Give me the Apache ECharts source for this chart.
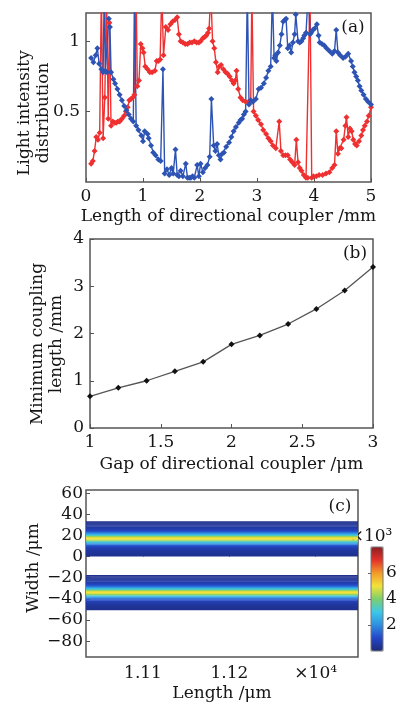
<!DOCTYPE html>
<html><head><meta charset="utf-8">
<script src="https://cdn.jsdelivr.net/npm/echarts@6/dist/echarts.min.js"></script>
<style>html,body{margin:0;padding:0;background:#fff}#c{width:403px;height:706px}</style>
</head><body><div id="c"></div>
<script>
// ---------- Panel (a): light intensity vs coupler length ----------
const blueX = [0.09,0.13,0.17,0.20,0.23,0.27,0.30,0.32,0.34,0.37,0.40,0.42,0.44,0.48,0.51,0.55,0.59,0.63,0.67,0.71,0.75,0.79,0.83,0.85,0.88,0.92,0.97,1.00,1.03,1.08,1.10,1.14,1.18,1.22,1.27,1.31,1.35,1.38,1.42,1.46,1.50,1.53,1.57,1.60,1.63,1.66,1.70,1.75,1.78,1.81,1.84,1.87,1.90,1.95,1.98,2.01,2.05,2.09,2.13,2.17,2.20,2.24,2.27,2.30,2.33,2.36,2.39,2.42,2.46,2.51,2.55,2.59,2.63,2.68,2.71,2.74,2.77,2.80,2.83,2.86,2.89,2.93,2.98,3.03,3.07,3.12,3.16,3.20,3.24,3.27,3.30,3.32,3.34,3.37,3.40,3.43,3.46,3.49,3.51,3.54,3.57,3.60,3.63,3.66,3.68,3.72,3.75,3.78,3.81,3.83,3.86,3.90,3.93,3.95,3.98,4.01,4.05,4.08,4.10,4.14,4.18,4.22,4.27,4.32,4.36,4.39,4.42,4.46,4.51,4.55,4.60,4.65,4.68,4.71,4.74,4.77,4.80,4.83,4.87,4.91,4.95,5.00];
const blueY = [0.88,0.85,0.90,0.95,0.84,0.80,0.78,1.35,0.79,0.78,1.16,1.10,0.78,0.73,0.70,0.66,0.62,0.58,0.54,0.51,0.48,0.45,0.43,1.35,0.40,0.37,0.33,0.29,0.36,0.34,0.31,0.26,0.21,0.19,0.16,0.15,0.80,0.06,0.09,0.05,0.10,0.06,0.23,0.05,0.04,0.08,0.04,0.13,0.03,0.03,0.03,0.04,0.03,0.12,0.04,0.13,0.07,0.10,0.12,0.18,0.59,0.26,0.22,0.27,0.19,0.16,0.20,0.21,0.25,0.28,0.32,0.36,0.39,0.42,0.44,0.45,0.48,0.50,1.35,0.55,0.58,0.57,0.59,0.66,0.67,0.70,0.74,0.79,0.82,1.35,0.88,0.90,0.86,0.92,0.97,1.05,1.14,1.15,1.16,0.95,0.97,0.92,0.99,1.05,1.19,1.00,0.99,1.00,1.02,1.04,1.06,1.35,1.05,1.06,1.08,1.09,1.12,1.04,0.99,0.98,0.97,0.95,0.93,0.91,0.93,1.08,0.92,0.90,0.88,0.89,0.91,0.86,0.82,0.78,0.75,0.72,0.68,0.65,0.62,0.59,0.57,0.55];
const redX = [0.09,0.12,0.15,0.18,0.21,0.24,0.27,0.30,0.33,0.36,0.39,0.41,0.44,0.47,0.50,0.53,0.56,0.59,0.63,0.67,0.70,0.73,0.76,0.79,0.82,0.85,0.88,0.90,0.93,0.96,0.99,1.01,1.04,1.08,1.12,1.16,1.21,1.24,1.27,1.30,1.33,1.36,1.40,1.44,1.48,1.52,1.56,1.60,1.63,1.66,1.70,1.74,1.78,1.82,1.86,1.90,1.94,1.98,2.01,2.05,2.08,2.11,2.14,2.16,2.19,2.22,2.25,2.28,2.31,2.34,2.37,2.41,2.45,2.48,2.52,2.56,2.59,2.62,2.64,2.67,2.71,2.75,2.80,2.85,2.89,2.91,2.94,2.98,3.02,3.07,3.11,3.16,3.20,3.24,3.28,3.33,3.39,3.42,3.46,3.50,3.54,3.58,3.62,3.66,3.69,3.72,3.75,3.78,3.82,3.86,3.89,3.93,3.96,3.99,4.04,4.09,4.15,4.21,4.27,4.32,4.36,4.39,4.42,4.45,4.48,4.52,4.55,4.57,4.60,4.63,4.66,4.69,4.72,4.75,4.79,4.83,4.86,4.89,4.93,4.96,5.00];
const redY = [0.13,0.15,0.22,0.32,0.30,0.35,1.35,0.31,0.60,1.35,0.45,1.13,0.40,0.43,0.42,0.42,0.43,0.43,0.45,0.47,0.50,0.53,0.58,0.59,0.60,0.62,1.35,0.68,0.72,0.98,0.95,0.92,0.82,0.80,0.78,0.78,0.79,0.86,0.86,0.87,1.35,0.90,1.10,1.08,1.12,1.14,1.15,1.17,1.05,1.00,0.99,0.98,0.98,0.99,0.99,1.00,0.99,0.99,1.00,1.02,1.03,1.04,1.06,1.09,1.35,1.00,0.95,0.85,0.78,0.82,0.83,0.80,0.78,0.77,0.75,0.72,0.70,0.72,0.79,0.66,0.60,0.58,0.57,0.57,0.57,1.35,0.50,0.47,0.44,0.41,0.37,0.34,0.31,0.29,0.26,0.24,0.43,0.22,0.19,0.19,0.19,0.16,0.14,0.12,0.30,0.14,0.10,0.08,0.05,0.03,0.03,1.35,0.03,0.04,0.04,0.05,0.05,0.06,0.07,0.10,0.12,0.36,0.20,0.24,0.24,0.30,0.40,0.46,0.32,0.38,0.36,0.30,0.27,0.26,0.29,0.33,0.37,0.40,0.43,0.47,0.53];

// ---------- Panel (b): minimum coupling length vs gap ----------
const gapX = [1.0,1.2,1.4,1.6,1.8,2.0,2.2,2.4,2.6,2.8,3.0];
const couplingLen = [0.67,0.85,1.00,1.20,1.40,1.77,1.96,2.20,2.52,2.91,3.41];

// ---------- Panel (c): field distribution ----------
const simLength = [11034, 11349];            // length span of simulation window (µm)
const upperWidth = [33,32,31,30,29,28,27,26,25,24,23,22,21,20,19,18,17,16,15,14,13,12,11,10,9,8,7,6,5,4,3,2,1];
const upperIntensity = [0.25,0.3,0.35,0.4,0.45,0.5,0.6,0.7,0.85,1.1,1.5,2.0,2.6,3.3,4.2,4.8,5.0,4.8,4.2,3.3,2.6,2.0,1.5,1.1,0.85,0.7,0.6,0.5,0.45,0.4,0.35,0.3,0.25];
const lowerWidth = [-18,-19,-20,-21,-22,-23,-24,-25,-26,-27,-28,-29,-30,-31,-32,-33,-34,-35,-36,-37,-38,-39,-40,-41,-42,-43,-44,-45,-46,-47,-48,-49,-50];
const lowerIntensity = [0.25,0.3,0.35,0.4,0.45,0.5,0.6,0.7,0.85,1.1,1.5,2.0,2.6,3.3,4.2,4.8,5.0,4.8,4.2,3.3,2.6,2.0,1.5,1.1,0.85,0.7,0.6,0.5,0.45,0.4,0.35,0.3,0.25];
const cYTicks = [-80,-60,-40,-20,0,20,40,60];
const cXTicks = [11100,11200,11300];
const cXTickLabels = ['1.11','1.12','×10⁴'];

const jet = ['#1e2a7a','#2446c8','#2f8fe0','#3cc8e8','#7ccf6c','#f2e23a','#f39a2a','#e3322a','#8a1f22'];
const FONT = 'DejaVu Serif';
const FS = 17;
const TXT = '#151515';
const FRAME = '#555';

const pair = (xs, ys) => xs.map((x, i) => [x, ys[i]]);
const heatRows = [];
upperWidth.forEach((w, i) => heatRows.push([simLength[0], simLength[1], w, upperIntensity[i]]));
lowerWidth.forEach((w, i) => heatRows.push([simLength[0], simLength[1], w, lowerIntensity[i]]));

const lbl = {fontFamily: FONT, fontSize: FS, color: TXT};
const nameStyle = {fontFamily: FONT, fontSize: FS, color: TXT};
const gFont = FS + 'px "' + FONT + '"';
function gridBox(o) { return Object.assign({show: true, borderColor: FRAME, borderWidth: 1.5, backgroundColor: 'transparent', containLabel: false}, o); }
function baseAxis(extra) {
  return Object.assign({
    axisLine: {show: false},
    axisTick: {show: true, inside: true, length: 4, lineStyle: {color: FRAME, width: 1}},
    splitLine: {show: false},
    axisLabel: Object.assign({margin: 6}, lbl),
    nameTextStyle: nameStyle
  }, extra);
}

const chart = echarts.init(document.getElementById('c'), null, {renderer: 'canvas'});
chart.setOption({
  animation: false,
  backgroundColor: '#fff',
  grid: [
    gridBox({left: 86, top: 13, width: 285, height: 169}),
    gridBox({left: 90, top: 239, width: 283, height: 189}),
    gridBox({left: 86, top: 490, width: 272, height: 167}),
    {left: 371, top: 547, width: 12, height: 104, show: false}
  ],
  xAxis: [
    baseAxis({gridIndex: 0, type: 'value', min: 0, max: 5, interval: 1,
      name: 'Length of directional coupler /mm', nameLocation: 'middle', nameGap: 26}),
    baseAxis({gridIndex: 1, type: 'value', min: 1, max: 3, interval: 0.5,
      name: 'Gap of directional coupler /μm', nameLocation: 'middle', nameGap: 28}),
    baseAxis({gridIndex: 2, type: 'value', min: simLength[0], max: simLength[1],
      axisTick: {show: true, inside: true, length: 4, customValues: cXTicks, lineStyle: {color: FRAME}},
      axisLabel: Object.assign({margin: 8, customValues: cXTicks,
        formatter: v => cXTickLabels[cXTicks.indexOf(v)]}, lbl),
      name: 'Length /μm', nameLocation: 'middle', nameGap: 28}),
    {gridIndex: 3, type: 'value', show: false, min: 0, max: 1}
  ],
  yAxis: [
    baseAxis({gridIndex: 0, type: 'value', min: 0, max: 1.2, interval: 0.5,
      axisLabel: Object.assign({margin: 6, showMinLabel: false, showMaxLabel: false}, lbl)}),
    baseAxis({gridIndex: 1, type: 'value', min: 0, max: 4, interval: 1,
      axisLabel: Object.assign({margin: 6}, lbl)}),
    baseAxis({gridIndex: 2, type: 'value', min: -95, max: 63,
      axisTick: {show: true, inside: true, length: 4, customValues: cYTicks, lineStyle: {color: FRAME}},
      axisLabel: Object.assign({margin: 3, customValues: cYTicks,
        formatter: v => (v < 0 ? '−' + Math.abs(v) : String(v))}, lbl)}),
    {gridIndex: 3, type: 'value', position: 'right', min: 0, max: 8, interval: 2,
      axisLine: {show: false}, splitLine: {show: false},
      axisTick: {show: true, inside: true, length: 3, lineStyle: {color: '#666'}},
      axisLabel: Object.assign({margin: 3, showMinLabel: false, showMaxLabel: false}, lbl),
      name: '×10³', nameLocation: 'end', nameGap: 2,
      nameTextStyle: {fontFamily: FONT, fontSize: FS, color: TXT, align: 'center', padding: [0, 0, 0, 0]}}
  ],
  visualMap: {
    type: 'continuous', seriesIndex: 3, dimension: 3, min: 0, max: 8,
    left: 371, top: 547, itemWidth: 12, itemHeight: 104, padding: 0,
    calculable: false, hoverLink: false, showLabel: false, text: null,
    borderWidth: 0,
    inRange: {color: jet}
  },
  series: [
    {type: 'line', xAxisIndex: 0, yAxisIndex: 0, data: pair(redX, redY), clip: true,
      symbol: 'diamond', symbolSize: 6, lineStyle: {color: '#ef3030', width: 1.4},
      itemStyle: {color: '#ef3030'}},
    {type: 'line', xAxisIndex: 0, yAxisIndex: 0, data: pair(blueX, blueY), clip: true,
      symbol: 'diamond', symbolSize: 6, lineStyle: {color: '#2d54b4', width: 1.4},
      itemStyle: {color: '#2d54b4'}},
    {type: 'line', xAxisIndex: 1, yAxisIndex: 1, data: pair(gapX, couplingLen),
      symbol: 'diamond', symbolSize: 6, lineStyle: {color: '#555', width: 1.3},
      itemStyle: {color: '#111'}},
    {type: 'custom', xAxisIndex: 2, yAxisIndex: 2, data: heatRows, clip: true,
      encode: {x: [0, 1], y: 2},
      renderItem: (params, api) => {
        const p0 = api.coord([api.value(0), api.value(2) + 0.5]);
        const p1 = api.coord([api.value(1), api.value(2) - 0.5]);
        return {type: 'rect',
          shape: {x: p0[0], y: p0[1], width: p1[0] - p0[0], height: p1[1] - p0[1] + 0.4},
          style: {fill: api.visual('color')}};
      }}
  ],
  graphic: [
    {type: 'text', x: 34, y: 113, rotation: Math.PI / 2,
      style: {text: 'Light intensity\ndistribution', font: gFont, fill: TXT,
        textAlign: 'center', textVerticalAlign: 'middle', lineHeight: 19}},
    {type: 'text', x: 47, y: 344, rotation: Math.PI / 2,
      style: {text: 'Minimum coupling\nlength /mm', font: gFont, fill: TXT,
        textAlign: 'center', textVerticalAlign: 'middle', lineHeight: 19}},
    {type: 'text', x: 34, y: 568, rotation: Math.PI / 2,
      style: {text: 'Width /μm', font: gFont, fill: TXT,
        textAlign: 'center', textVerticalAlign: 'middle'}},
    {type: 'text', x: 353, y: 28, style: {text: '(a)', font: gFont, fill: TXT, textAlign: 'center', textVerticalAlign: 'middle'}},
    {type: 'text', x: 355, y: 254, style: {text: '(b)', font: gFont, fill: TXT, textAlign: 'center', textVerticalAlign: 'middle'}},
    {type: 'text', x: 340, y: 507, style: {text: '(c)', font: gFont, fill: TXT, textAlign: 'center', textVerticalAlign: 'middle'}},
    {type: 'rect', shape: {x: 371, y: 547, width: 12, height: 104}, style: {fill: 'none', stroke: '#777', lineWidth: 1}, z: 100}
  ]
});
</script></body></html>
